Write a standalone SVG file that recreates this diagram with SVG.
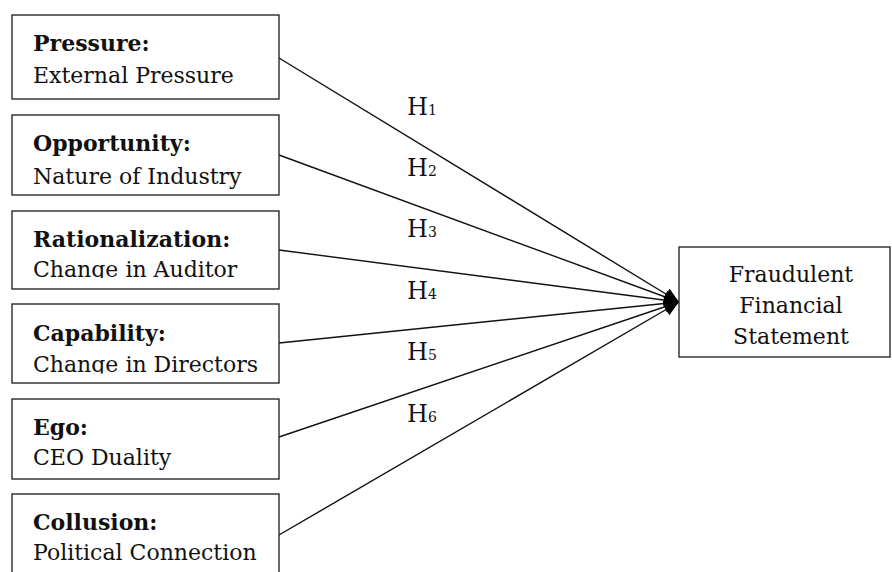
<svg xmlns="http://www.w3.org/2000/svg" width="892" height="572" viewBox="0 0 892 572">
  <style>
    .box { fill: #ffffff; stroke: #2a2a2a; stroke-width: 1.4; }
    .t { font-family: "DejaVu Serif", "Liberation Serif", serif; font-size: 22px; fill: #111; }
    .b { font-weight: bold; }
    .h { font-family: "DejaVu Serif", "Liberation Serif", serif; font-size: 24px; fill: #111; }
    .sub { font-size: 14px; }
    .conn { stroke: #111; stroke-width: 1.4; fill: none; marker-end: url(#arrow); }
  </style>
  <defs>
    <marker id="arrow" markerUnits="userSpaceOnUse" markerWidth="16" markerHeight="14" refX="15" refY="7" orient="auto">
      <path d="M0,0.5 L15,7 L0,13.5 z" fill="#000"/>
    </marker>
    <clipPath id="clip3"><rect x="0" y="200" width="300" height="78"/></clipPath>
    <clipPath id="clip4"><rect x="0" y="300" width="300" height="73.5"/></clipPath>
  </defs>
  <rect width="892" height="572" fill="#ffffff"/>

  <g id="connectors">
    <line class="conn" x1="279" y1="58" x2="679" y2="302"/>
    <line class="conn" x1="279" y1="155" x2="679" y2="302"/>
    <line class="conn" x1="279" y1="250" x2="679" y2="302"/>
    <line class="conn" x1="279" y1="343" x2="679" y2="302"/>
    <line class="conn" x1="279" y1="437" x2="679" y2="302"/>
    <line class="conn" x1="279" y1="535" x2="679" y2="302"/>
  </g>

  <g id="labels">
    <text class="h" x="407" y="115">H<tspan class="sub">1</tspan></text>
    <text class="h" x="407" y="176">H<tspan class="sub">2</tspan></text>
    <text class="h" x="407" y="237">H<tspan class="sub">3</tspan></text>
    <text class="h" x="407" y="299">H<tspan class="sub">4</tspan></text>
    <text class="h" x="407" y="360">H<tspan class="sub">5</tspan></text>
    <text class="h" x="407" y="422">H<tspan class="sub">6</tspan></text>
  </g>

  <g id="pressure">
    <rect class="box" x="12" y="15" width="267" height="84"/>
    <text class="t b" x="33" y="51">Pressure:</text>
    <text class="t" x="33" y="83">External Pressure</text>
  </g>
  <g id="opportunity">
    <rect class="box" x="12" y="115" width="267" height="80"/>
    <text class="t b" x="33" y="151">Opportunity:</text>
    <text class="t" x="33" y="184">Nature of Industry</text>
  </g>
  <g id="rationalization">
    <rect class="box" x="12" y="211" width="267" height="78"/>
    <text class="t b" x="33" y="247">Rationalization:</text>
    <text class="t" x="33" y="277" clip-path="url(#clip3)">Change in Auditor</text>
  </g>
  <g id="capability">
    <rect class="box" x="12" y="304" width="267" height="79"/>
    <text class="t b" x="33" y="341">Capability:</text>
    <text class="t" x="33" y="372" clip-path="url(#clip4)">Change in Directors</text>
  </g>
  <g id="ego">
    <rect class="box" x="12" y="399" width="267" height="80"/>
    <text class="t b" x="33" y="435">Ego:</text>
    <text class="t" x="33" y="465">CEO Duality</text>
  </g>
  <g id="collusion">
    <rect class="box" x="12" y="494" width="267" height="90"/>
    <text class="t b" x="33" y="530">Collusion:</text>
    <text class="t" x="33" y="560">Political Connection</text>
  </g>
  <g id="fraudulent">
    <rect class="box" x="679" y="247" width="211" height="110"/>
    <text class="t" x="791" y="282" text-anchor="middle">Fraudulent</text>
    <text class="t" x="791" y="313" text-anchor="middle">Financial</text>
    <text class="t" x="791" y="344" text-anchor="middle">Statement</text>
  </g>
</svg>
